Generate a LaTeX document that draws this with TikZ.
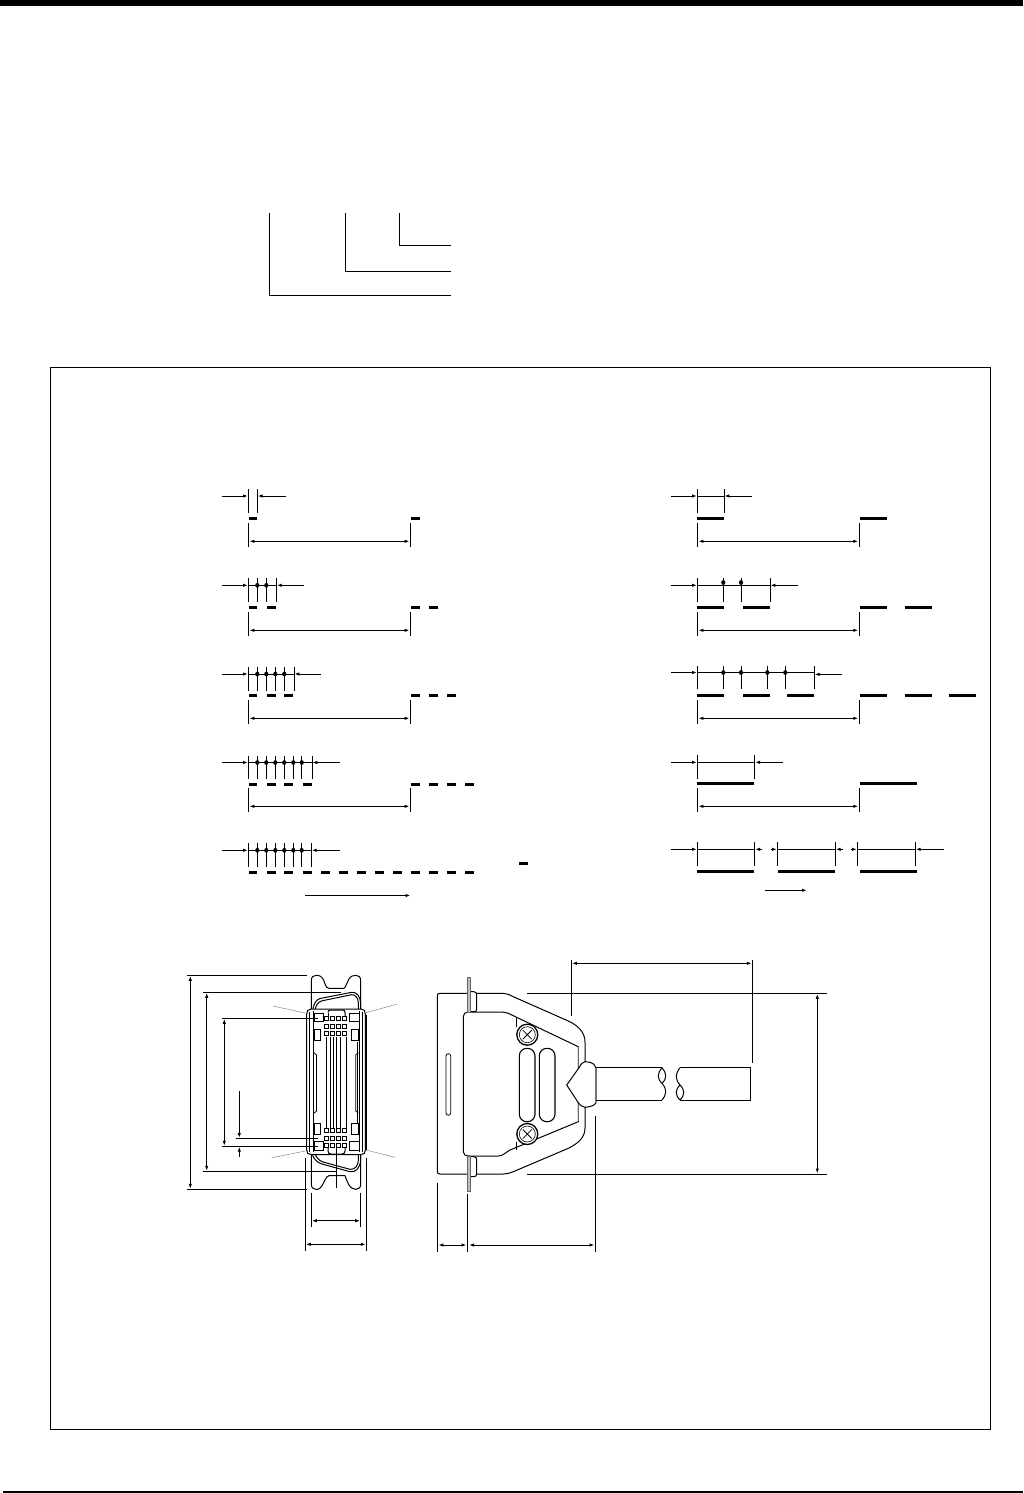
\documentclass[tikz,border=0pt]{standalone}
\usetikzlibrary{arrows.meta}
\tikzset{
  ln/.style={line width=1pt,black},
  dim/.style={line width=1pt,black,{Latex[length=5pt,width=3.4pt]}-{Latex[length=5pt,width=3.4pt]}},
  rarr/.style={line width=1pt,black,-{Latex[length=5pt,width=3.4pt]}},
  tick/.style={line width=1pt,black},
  barbox/.style={fill=black,draw=none},
  lead/.style={line width=0.4pt,black!55},
  part/.style={line width=1pt,black,line join=round},
  pin/.style={line width=0.9pt,black,fill=white}
}
% \BARS{y}{list of x0/x1}
\newcommand{\BARS}[2]{\foreach \a/\b in {#2} {\fill[barbox] (\a,#1-1.5) rectangle (\b,#1+1.5);}}
% \TICKS{y}{list}
\newcommand{\TICKS}[2]{\foreach \a in {#2} {\draw[tick] (\a,#1-7) -- (\a,#1+16.5);}}
\newcommand{\DOTS}[2]{\foreach \a in {#2} {\fill[black] (\a,#1) ellipse[x radius=2.1,y radius=2.4];}}
% \PERIOD{x0}{x1}{y}
\newcommand{\PERIOD}[3]{\draw[tick] (#1,#3-18) -- (#1,#3+5.5); \draw[tick] (#2,#3-18) -- (#2,#3+5.5); \draw[dim] (#1+1,#3) -- (#2-1,#3);}
% \PITCH{x0}{xlast}{y}{xend}
\newcommand{\PITCH}[4]{\draw[rarr] (#1-26,#3) -- (#1-0.3,#3); \draw[rarr] (#4,#3) -- (#2+0.3,#3);}
\begin{document}
\begin{tikzpicture}[x=1pt,y=-1pt]
\useasboundingbox (0,0) rectangle (1023,1493);
\fill[white] (0,0) rectangle (1023,1493);
% page rules
\fill[black] (0,0) rectangle (1023,5.7);
\fill[black] (3,1490.7) rectangle (1023,1492.7);
% leaders at top
\draw[ln] (269.5,213) -- (269.5,295) -- (451,295);
\draw[ln] (345,213) -- (345,271) -- (451,271);
\draw[ln] (399,213) -- (399,245) -- (451,245);
% frame
\draw[ln] (50.5,367.5) rectangle (990.5,1429);

%%%% timing left
\TICKS{496}{248.3,257.3}
\PITCH{248.3}{257.3}{496}{286}
\BARS{518.3}{249/257,411/420}
\PERIOD{248.3}{410.6}{541.3}

\TICKS{585.3}{248.3,257.3,266.3,276.3}
\draw[tick] (248.3,585.3) -- (276.3,585.3);
\DOTS{585.3}{257.3,266.3}
\PITCH{248.3}{276.3}{585.3}{304}
\BARS{607.3}{249/257,267/276,411/420,429/438}
\PERIOD{248.3}{410.6}{630.3}

\TICKS{674}{248.3,257.3,266.3,275.3,284.3,294}
\draw[tick] (248.3,674) -- (294,674);
\DOTS{674}{257.3,266.3,275.3,284.3}
\PITCH{248.3}{294}{674}{321}
\BARS{695.3}{249/257,267/276,284/293,411/420,429/438,447/456}
\PERIOD{248.3}{410.6}{718.3}

\TICKS{762.5}{248.3,257.3,266.3,275.3,284.3,293.3,301.7,312}
\draw[tick] (248.3,762.5) -- (312,762.5);
\DOTS{762.5}{257.3,266.3,275.3,284.3,293.3,301.7}
\PITCH{248.3}{312}{762.5}{340}
\BARS{784.3}{249/257,267/276,284/293,303/312,411/420,429/438,447/456,465/474}
\PERIOD{248.3}{410.6}{806.3}

\TICKS{850.3}{248.3,257.3,266.3,275.3,284.3,293.3,301.7,311.3}
\draw[tick] (248.3,850.3) -- (311.3,850.3);
\DOTS{850.3}{257.3,266.3,275.3,284.3,293.3,301.7}
\PITCH{248.3}{311.3}{850.3}{340}
\BARS{872.7}{249/257,267/276,284/293,303/312,321/330,339/348,357/366,375/384,393/402,411/420,429/438,447/456,465/474}
\BARS{863.3}{519/528}
\draw[rarr] (305,895.5) -- (410.5,895.5);

%%%% timing right
\TICKS{496}{697.3,724}
\draw[tick] (697.3,496) -- (724,496);
\PITCH{697.3}{724}{496}{752}
\BARS{518.3}{697/724,860/887}
\PERIOD{697.3}{859.3}{541.3}

\TICKS{585.3}{697.3,723.3,741,770}
\draw[tick] (697.3,585.3) -- (770,585.3);
\DOTS{582.5}{723.3,741}
\PITCH{697.3}{770}{585.3}{798}
\BARS{607.3}{697/724,743/770,860/887,905/932}
\PERIOD{697.3}{859.3}{630.3}

\TICKS{672.5}{697.3,723.3,741,767.3,785.3,814.3}
\draw[tick] (697.3,672.5) -- (814.3,672.5);
\DOTS{672.5}{723.3,741,767.3,785.3}
\draw[rarr] (671,672.5) -- (697,672.5);
\draw[rarr] (842,674.3) -- (814.6,674.3);
\BARS{695.3}{697/724,743/770,787/814,860/887,905/932,949/976}
\PERIOD{697.3}{859.3}{718.3}

\TICKS{762.3}{697.3,754.7}
\draw[tick] (697.3,762.3) -- (754.7,762.3);
\PITCH{697.3}{754.7}{762.3}{783}
\BARS{783.3}{697/754,860/917}
\PERIOD{697.3}{859.3}{806.3}

\TICKS{849.3}{697.3,754.7,777.3,835.3,857.3,915.3}
\draw[tick] (697.3,849.3) -- (754.7,849.3);
\draw[tick] (777.3,849.3) -- (835.3,849.3);
\draw[tick] (857.3,849.3) -- (915.3,849.3);
\draw[rarr] (671,849.3) -- (697,849.3);
\draw[rarr] (762,849.3) -- (755,849.3);
\draw[rarr] (771,849.3) -- (777,849.3);
\draw[rarr] (842.5,849.3) -- (835.6,849.3);
\draw[rarr] (851,849.3) -- (857,849.3);
\draw[rarr] (944,849.3) -- (915.6,849.3);
\BARS{871.3}{697/754,778/835,860/917}
\draw[rarr] (765,890.3) -- (807,890.3);

%%%% connector, front view
% dimension lines
\draw[tick] (187.3,975.3) -- (307.3,975.3);
\draw[tick] (187.3,1189.3) -- (307.3,1189.3);
\draw[dim] (190.3,975.8) -- (190.3,1188.8);
\draw[tick] (203.3,992.3) -- (340.7,992.3);
\draw[tick] (203.3,1171.3) -- (336.7,1171.3);
\draw[dim] (206.7,992.8) -- (206.7,1170.8);
\draw[tick] (222.3,1018.3) -- (313,1018.3);
\draw[tick] (222.3,1146.3) -- (313,1146.3);
\draw[dim] (224.3,1018.8) -- (224.3,1145.8);
\draw[tick] (236,1138.3) -- (313,1138.3);
\draw[rarr] (239.3,1091) -- (239.3,1138);
\draw[rarr] (239.3,1156.7) -- (239.3,1146.6);
% plate
\draw[part] (311.3,981) .. controls (311.3,977) and (313,975.3) .. (316,975.3)
  -- (318,975.3) .. controls (322,976) and (324,980) .. (325,984)
  .. controls (326,987) and (327,988.3) .. (329,988.3) -- (344,988.3)
  .. controls (346,987) and (347,982) .. (349,979)
  .. controls (351,976) and (353,975.3) .. (356,975.3)
  .. controls (359,975.3) and (360.7,977) .. (360.7,981)
  -- (360.7,1184) .. controls (360.7,1187.5) and (359,1189.3) .. (356,1189.3)
  .. controls (353,1189.3) and (351,1188) .. (349,1185)
  .. controls (347,1182) and (346,1178) .. (345,1175.7) -- (329,1175.7)
  .. controls (327,1176) and (326,1178) .. (325,1180)
  .. controls (323,1184) and (321,1188.5) .. (318,1189.3) -- (316,1189.3)
  .. controls (313,1189.3) and (311.3,1187.5) .. (311.3,1184) -- cycle;
% shell outline (double)
\draw[part,fill=white] (312.7,1010) .. controls (313.5,1004) and (316,1000) .. (320,998.5)
  -- (351.7,992.3) .. controls (357,992) and (360,996) .. (360.7,1003)
  -- (360.7,1160) .. controls (360,1168) and (356,1172.5) .. (350,1171.7)
  -- (322,1164) .. controls (316,1162) and (313,1158) .. (312,1153) -- cycle;
\draw[part] (315,1010) .. controls (316,1005) and (318,1002) .. (322,1000.8)
  -- (351.5,994.7) .. controls (355,994.5) and (358,997) .. (358.4,1003)
  -- (358.4,1160) .. controls (358,1166) and (355,1169.7) .. (350,1169.3)
  -- (323,1162) .. controls (318,1160) and (316,1157) .. (315,1153);
% flange
\draw[part,fill=white] (306.7,1014) .. controls (306.7,1011) and (308,1009) .. (311,1009) -- (361,1009)
  .. controls (364,1009) and (365.3,1011) .. (365.3,1014) -- (365.3,1150)
  .. controls (365.3,1153) and (364,1154.5) .. (361,1154.5) -- (311,1154.5)
  .. controls (308,1154.5) and (306.7,1153) .. (306.7,1150) -- cycle;
\draw[line width=1.5pt] (366,1015) -- (366,1150);
\draw[part] (309.3,1012) -- (309.3,1152);
\draw[part] (362.5,1012) -- (362.5,1152);
\draw[part] (313.5,1011) -- (313.5,1152);
\draw[part] (359.8,1011) -- (359.8,1152);
\draw[part] (357.5,1042) -- (357.5,1123);
% redrawn leader-dimension stubs over the flange
\draw[tick] (306,1018.3) -- (318,1018.3);
\draw[tick] (306,1146.3) -- (318,1146.3);
\draw[tick] (306,1138.3) -- (318,1138.3);
% centre lozenges
\draw[part] (328,1012.5) .. controls (328,1010.5) and (329,1010) .. (331,1010) -- (342,1010)
  .. controls (344,1010) and (345,1010.5) .. (345,1012.5) -- (345,1016);
\draw[part] (328,1012.5) -- (328,1016);
\draw[part] (328,1148) -- (328,1151) .. controls (328,1153) and (329,1154) .. (331,1154) -- (342,1154)
  .. controls (344,1154) and (345,1153) .. (345,1151) -- (345,1148);
% latch rectangles
\draw[line width=0.8pt] (314.3,1013.3) rectangle (323.3,1021);
\draw[line width=0.8pt] (349,1013.3) rectangle (359,1021);
\draw[line width=0.8pt] (314.3,1141.7) rectangle (323.3,1150);
\draw[line width=0.8pt] (349,1141.7) rectangle (359,1150);
% slots
\draw[line width=0.8pt] (314,1029) rectangle (320.7,1040.7);
\draw[line width=0.8pt] (351.7,1029) rectangle (358.3,1040.7);
\draw[line width=0.8pt] (314,1123) rectangle (320.7,1134);
\draw[line width=0.8pt] (351.7,1123) rectangle (358.3,1134);
\draw[line width=0.8pt] (314,1052.7) -- (316.5,1055) -- (316.5,1111) -- (314,1113);
\draw[line width=0.8pt] (358.3,1052.7) -- (355.7,1055) -- (355.7,1111) -- (358.3,1113);
% long contact lines
\foreach \x in {326,330.7,333.3,336.7,340.7,346} {\draw[line width=0.9pt] (\x,1037) -- (\x,1128);}
\draw[line width=0.9pt] (336,1146) -- (336,1188.3);
% pins
\foreach \x in {326.7,332.7,338.7,344.3}
  \foreach \y in {1018.3,1026,1033.3,1130.3,1138,1145.7}
    {\draw[pin] (\x-2,\y-2) rectangle (\x+2,\y+2);}
% gray leaders
\draw[lead] (272.7,1006) -- (306.7,1013.3);
\draw[lead] (366,1012.7) -- (397.3,1004);
\draw[lead] (271.7,1157.7) -- (306.7,1150.7);
\draw[lead] (366,1150) -- (395,1157.3);
% bottom dims
\draw[tick] (311.3,1192.7) -- (311.3,1226.7);
\draw[tick] (360.7,1192.7) -- (360.7,1226.7);
\draw[dim] (311.8,1220.7) -- (360.2,1220.7);
\draw[tick] (305.3,1158) -- (305.3,1250.7);
\draw[tick] (366.3,1158) -- (366.3,1250.7);
\draw[dim] (305.8,1244.3) -- (365.8,1244.3);

%%%% connector, side view
% dims
\draw[tick] (571.3,960) -- (571.3,1015.7);
\draw[tick] (752.3,960) -- (752.3,1063.3);
\draw[dim] (571.8,963.3) -- (751.8,963.3);
\draw[tick] (527.3,993.3) -- (826.7,993.3);
\draw[tick] (527.3,1174) -- (826.7,1174);
\draw[dim] (817.3,993.8) -- (817.3,1173.5);
\draw[tick] (437.3,1183.3) -- (437.3,1251.7);
\draw[tick] (467.3,1194) -- (467.3,1251.7);
\draw[tick] (595.3,1116) -- (595.3,1251.7);
\draw[dim] (438.3,1245) -- (466.5,1245);
\draw[dim] (469,1245) -- (594.5,1245);
% panel outline
\draw[part] (467,993.3) -- (440,993.3) .. controls (438,993.3) and (437.3,994) .. (437.3,996)
  -- (437.3,1171) .. controls (437.3,1173.3) and (438,1174) .. (440,1174) -- (467,1174);
\draw[line width=0.8pt] (446,1056) .. controls (446,1053) and (450.7,1053) .. (450.7,1056) -- (450.7,1113) .. controls (450.7,1116) and (446,1116) .. (446,1113) -- cycle;
% tabs
\draw[part] (470.7,991.7) -- (474,991.7) .. controls (476,992) and (476.7,993) .. (476.7,995) -- (476.7,1009) .. controls (476.7,1011) and (476,1011.7) .. (474,1011.7) -- (470.7,1011.7);
\draw[part] (470.7,1156.7) -- (474,1156.7) .. controls (476,1157) and (476.7,1158) .. (476.7,1160) -- (476.7,1173) .. controls (476.7,1175.5) and (476,1176.7) .. (474,1176.7) -- (470.7,1176.7);
% back shell outer
\draw[part] (476.7,993.3) -- (503.3,993.3) .. controls (507,993.3) and (510,995) .. (513.3,996.7)
  -- (568.3,1021) .. controls (579,1026) and (585,1033) .. (585,1042) -- (585,1062);
\draw[part] (585,1107) -- (585,1128) .. controls (585,1137) and (579,1143) .. (568.3,1148.3)
  -- (513.3,1171.7) .. controls (510,1173) and (507,1174) .. (503.3,1174) -- (476.7,1174);
% body
\draw[part,fill=white] (463.3,1016.7) .. controls (463.3,1014) and (465,1012) .. (468,1012)
  -- (498.3,1012) .. controls (502,1012) and (505,1012) .. (508.3,1013.3)
  -- (578.3,1046.7) -- (578.3,1121.7) -- (510,1150)
  .. controls (506,1152) and (503,1156) .. (498.3,1156)
  -- (470,1156) .. controls (465,1156) and (463.3,1154.5) .. (463.3,1151.7) -- cycle;
\draw[line width=1.4pt,black!60] (578.5,1047) -- (578.5,1072);
\draw[line width=1.4pt,black!60] (578.5,1098) -- (578.5,1121);
% flange plate
\draw[line width=0.5pt,draw=black!60,fill=black!25] (467.3,977.7) rectangle (470.3,1012);
\draw[line width=0.5pt,draw=black!60,fill=black!25] (467.3,1156) rectangle (470.3,1191.7);
% screws
\foreach \y in {1034.7,1134} {
  \draw[line width=1.3pt,fill=white] (527.3,\y) circle (10.5);
  \draw[line width=0.6pt] (527.3,\y) circle (8);
  \draw[line width=0.8pt] (522.8,\y-4.5) -- (531.8,\y+4.5) (522.8,\y+4.5) -- (531.8,\y-4.5);
}
\draw[part] (516.7,1018) -- (516.7,1027);
\draw[part] (516.7,1141.7) -- (516.7,1150);
% long slots
\draw[line width=1.1pt,rounded corners=7.5pt] (519.3,1048.3) rectangle (535,1121.7);
\draw[line width=1.1pt,rounded corners=7.5pt] (539.3,1048.3) rectangle (555,1121.7);
% boot
\draw[part,fill=white] (566.7,1085) -- (579.3,1067.3) .. controls (581,1064) and (583,1061.7) .. (585,1061.7)
  -- (590,1062.3) .. controls (593,1063) and (595.5,1065) .. (595.7,1067.7)
  -- (595.7,1103.3) .. controls (595,1105) and (592,1106) .. (589.3,1106.7)
  -- (585,1107.3) .. controls (582,1107) and (580,1105) .. (578.3,1102.7) -- cycle;
\draw[line width=1.3pt,black!55] (596,1068) -- (596,1103);
% cable
\draw[part] (596,1067.7) -- (662.3,1067.7);
\draw[part] (596,1100) -- (662.3,1100);
\draw[part] (662,1067.7) .. controls (657,1074) and (657,1078) .. (662,1083.5)
  .. controls (667,1089) and (667,1094) .. (662,1100);
\draw[part] (662,1067.7) .. controls (667,1074) and (667,1078) .. (662,1083.5);
\draw[part] (680,1067.7) -- (750.7,1067.7) -- (750.7,1100) -- (680,1100);
\draw[part] (680,1067.7) .. controls (675,1074) and (675,1079) .. (680,1085)
  .. controls (685,1090) and (685,1095) .. (680,1100);
\draw[part] (680,1085) .. controls (675,1090) and (675,1095) .. (680,1100);
\end{tikzpicture}
\end{document}
